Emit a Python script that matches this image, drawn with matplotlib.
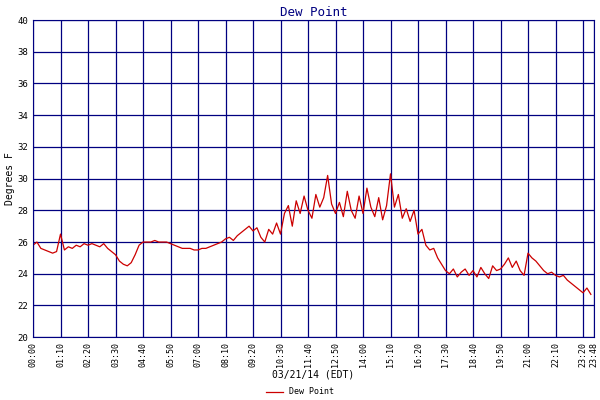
import matplotlib
matplotlib.use("Agg")
import matplotlib.pyplot as plt
import numpy as np

# dew point readings, one every 10 minutes from 00:00
dew = [25.8, 26.0, 25.6, 25.5, 25.4, 25.3, 25.4,
       26.5, 25.5, 25.7, 25.6, 25.8, 25.7, 25.9,
       25.8, 25.9, 25.8, 25.7, 25.9, 25.6, 25.4,
       25.2, 24.8, 24.6, 24.5, 24.7, 25.2, 25.8,
       26.0, 26.0, 26.0, 26.1, 26.0, 26.0, 26.0,
       25.9, 25.8, 25.7, 25.6, 25.6, 25.6, 25.5,
       25.5, 25.6, 25.6, 25.7, 25.8, 25.9, 26.0,
       26.2, 26.3, 26.1, 26.4, 26.6, 26.8, 27.0,
       26.7, 26.9, 26.3, 26.0, 26.8, 26.5, 27.2,
       26.5, 27.8, 28.3, 27.0, 28.6, 27.8, 28.9,
       28.0, 27.5, 29.0, 28.2, 28.8, 30.2, 28.4,
       27.8, 28.5, 27.6, 29.2, 28.0, 27.5, 28.9,
       27.8, 29.4, 28.2, 27.6, 28.8, 27.4, 28.3,
       30.3, 28.2, 29.0, 27.5, 28.1, 27.3, 28.0,
       26.5, 26.8, 25.8, 25.5, 25.6, 25.0, 24.6,
       24.2, 24.0, 24.3, 23.8, 24.1, 24.3, 23.9,
       24.2, 23.8, 24.4, 24.0, 23.7, 24.5, 24.2,
       24.3, 24.6, 25.0, 24.4, 24.8, 24.2, 23.9,
       25.3, 25.0, 24.8, 24.5, 24.2, 24.0, 24.1,
       23.9, 23.8, 23.9, 23.6, 23.4, 23.2, 23.0,
       22.8, 23.1, 22.7]
minutes = np.arange(len(dew)) * 10

tick_min = list(range(0, 1401, 70)) + [1428]
tick_labels = ["%02d:%02d" % (m // 60, m % 60) for m in tick_min]

navy = "#000080"
plt.rcParams['font.family'] = ['DejaVu Sans Mono']

fig = plt.figure(figsize=(6, 4), dpi=100)
ax = fig.add_axes([0.055, 0.157, 0.935, 0.793])
ax.plot(minutes, dew, color="#cc0000", lw=0.9, label="Dew Point")
ax.set_xlim(0, 1428)
ax.set_ylim(20, 40)
ax.set_yticks(range(20, 41, 2))
ax.set_xticks(tick_min)
ax.set_xticklabels(tick_labels, rotation=90, fontsize=6)
ax.tick_params(axis='y', labelsize=6.5, length=0)
ax.tick_params(axis='x', length=0)
ax.grid(True, color=navy, lw=0.9)
for s in ax.spines.values():
    s.set_color(navy)
ax.set_title("Dew Point", color=navy, fontsize=9, pad=3)
ax.set_ylabel("Degrees F", fontsize=7, labelpad=2)
ax.set_xlabel("03/21/14 (EDT)", fontsize=7, labelpad=2)
fig.legend(loc="lower center", bbox_to_anchor=(0.5, -0.01), frameon=False,
           fontsize=6, handlelength=2)
fig.savefig("out.png", dpi=100)
